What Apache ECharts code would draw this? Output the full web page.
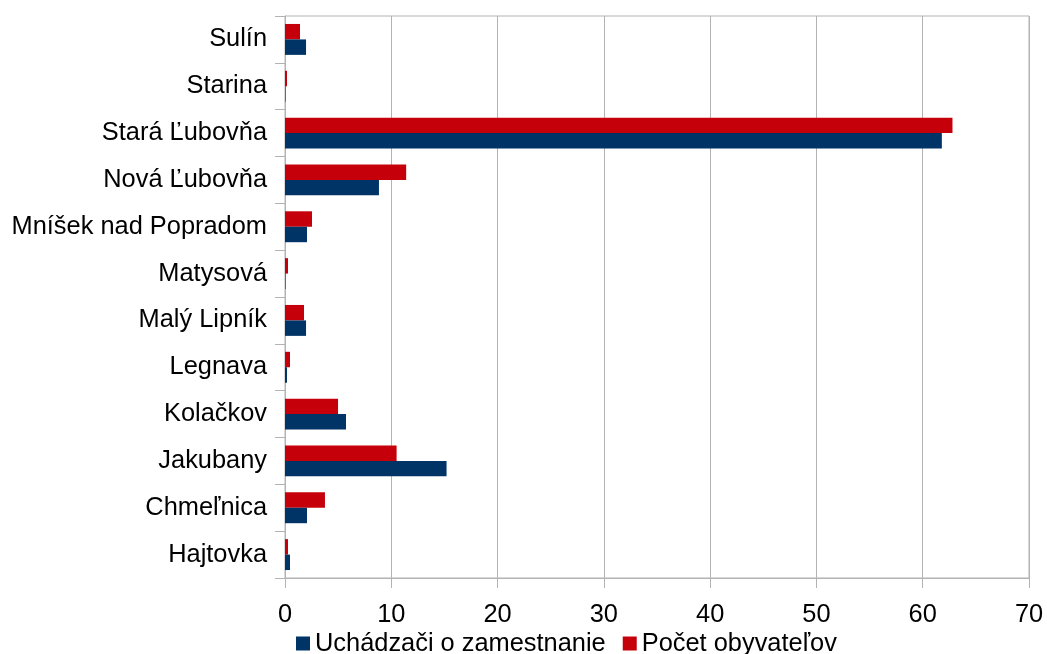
<!DOCTYPE html>
<html><head><meta charset="utf-8">
<script src="https://cdn.jsdelivr.net/npm/echarts@6/dist/echarts.min.js"></script>
<style>html,body{margin:0;padding:0;background:#fff}#c{width:1047px;height:654px}</style>
</head><body><div id="c"></div>
<script>
const categories = ['Hajtovka','Chmeľnica','Jakubany','Kolačkov','Legnava','Malý Lipník','Matysová','Mníšek nad Popradom','Nová Ľubovňa','Stará Ľubovňa','Starina','Sulín'];
const uchadzaci = [0.47, 2.07, 15.2, 5.74, 0.19, 1.98, 0.05, 2.07, 8.84, 61.8, 0.05, 1.98];
const pocet = [0.28, 3.76, 10.5, 4.99, 0.47, 1.79, 0.28, 2.54, 11.4, 62.8, 0.19, 1.41];
const xTicks = [0, 10, 20, 30, 40, 50, 60, 70];

const font = 'Liberation Sans, Arial, sans-serif';
const fs = 25.4;
const chart = echarts.init(document.getElementById('c'), null, {renderer: 'canvas'});
chart.setOption({
  animation: false,
  grid: {left: 285, right: 18, top: 16, bottom: 76, show: true, borderColor: '#b3b3b3', borderWidth: 1},
  legend: {
    top: 626, left: 291, itemWidth: 14, itemHeight: 14, itemGap: 17,
    textStyle: {fontFamily: font, fontSize: fs, color: '#000'},
    data: [{name: 'Uchádzači o zamestnanie', icon: 'rect'}, {name: 'Počet obyvateľov', icon: 'rect'}]
  },
  xAxis: {
    type: 'value', min: xTicks[0], max: xTicks[xTicks.length - 1], interval: 10,
    axisLine: {show: true, lineStyle: {color: '#b3b3b3'}},
    axisTick: {show: true, length: 10, lineStyle: {color: '#b3b3b3'}},
    splitLine: {show: true, lineStyle: {color: '#b3b3b3'}},
    axisLabel: {fontFamily: font, fontSize: fs, color: '#000', margin: 24}
  },
  yAxis: {
    type: 'category', data: categories,
    axisLine: {show: true, lineStyle: {color: '#b3b3b3'}},
    axisTick: {show: true, length: 10, lineStyle: {color: '#b3b3b3'}},
    axisLabel: {fontFamily: font, fontSize: fs, color: '#000', margin: 18}
  },
  series: [
    {name: 'Počet obyvateľov', type: 'bar', data: pocet, itemStyle: {color: '#c5000b'}, barGap: '0%', barCategoryGap: '34%'},
    {name: 'Uchádzači o zamestnanie', type: 'bar', data: uchadzaci, itemStyle: {color: '#003366'}, barGap: '0%', barCategoryGap: '34%'}
  ]
});
</script></body></html>
